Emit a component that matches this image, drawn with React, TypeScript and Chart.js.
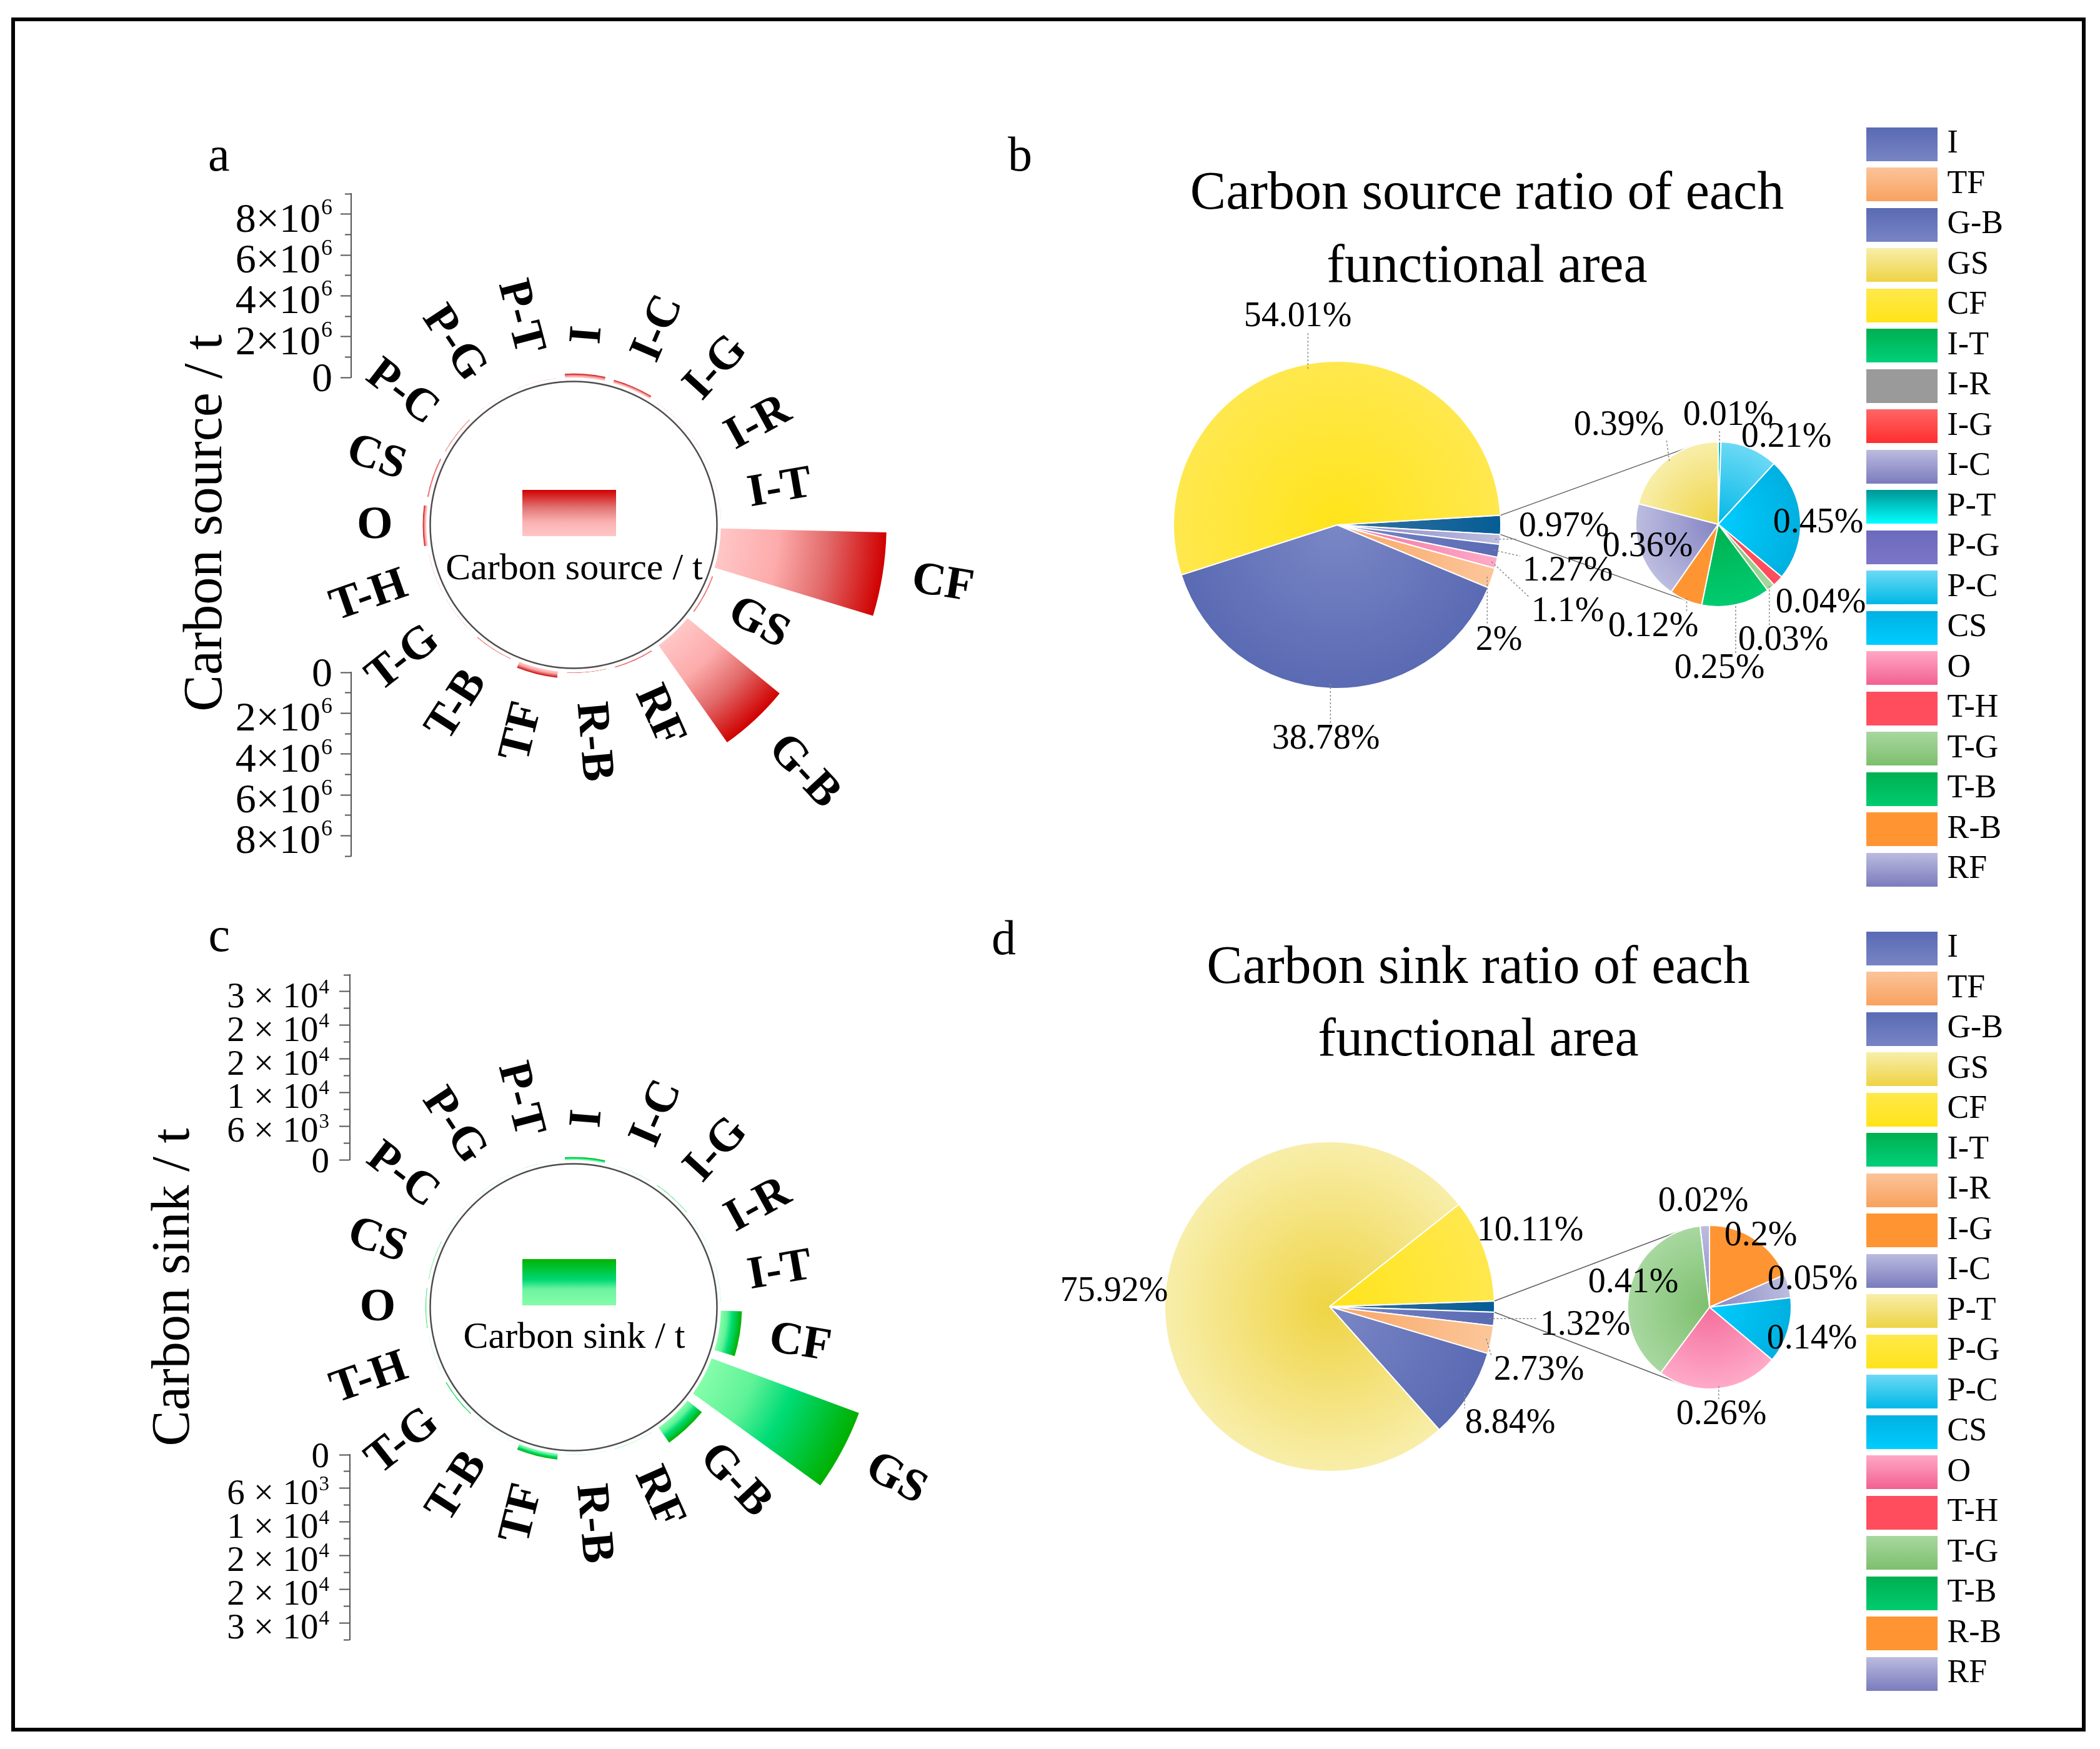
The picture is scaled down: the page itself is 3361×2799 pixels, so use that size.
import React, { useEffect, useRef } from 'react';
import { Chart, registerables } from 'chart.js';

Chart.register(...registerables);
const SERIF = '"Liberation Serif", "Times New Roman", serif';
Chart.defaults.font.family = SERIF;
Chart.defaults.color = '#000';

// ======================= DATA =======================
const RADIAL_CATEGORIES = ['I', 'I-C', 'I-G', 'I-R', 'I-T', 'CF', 'GS', 'G-B', 'RF', 'R-B', 'TF', 'T-B', 'T-G', 'T-H', 'O', 'CS', 'P-C', 'P-G', 'P-T'];
// carbon source per functional area (t)
const CARBON_SOURCE_T = [190600, 145600, 0, 0, 0, 8107000, 58500, 5820000, 54000, 18000, 300200, 37500, 4500, 6000, 165100, 67500, 31500, 0, 1500];
// carbon sink per functional area (t)
const CARBON_SINK_T = [487, 7.4, 73.8, 0, 0, 3729, 28000, 3260, 18.4, 0, 1007, 0, 151, 0, 95.9, 51.6, 0, 0, 0];

const SOURCE_AXIS_TICK_VALUES = [0, 2e6, 4e6, 6e6, 8e6];
const SOURCE_AXIS_TICK_LABELS = ['0', '2×10^6', '4×10^6', '6×10^6', '8×10^6'];
const SINK_AXIS_TICK_VALUES = [0, 6000, 12000, 18000, 24000, 30000];
const SINK_AXIS_TICK_LABELS = ['0', '6 × 10^3', '1 × 10^4', '2 × 10^4', '2 × 10^4', '3 × 10^4'];

const SOURCE_MAIN_CATEGORIES = ['Other', 'I-C', 'I', 'O', 'TF', 'G-B', 'CF'];
const SOURCE_MAIN_PCT = [1.87, 0.97, 1.27, 1.1, 2, 38.78, 54.01];
const SOURCE_SECOND_CATEGORIES = ['P-T', 'P-C', 'CS', 'T-H', 'T-G', 'T-B', 'R-B', 'RF', 'GS'];
const SOURCE_SECOND_PCT = [0.01, 0.21, 0.45, 0.04, 0.03, 0.25, 0.12, 0.36, 0.39];

const SINK_MAIN_CATEGORIES = ['Other', 'I', 'TF', 'G-B', 'GS', 'CF'];
const SINK_MAIN_PCT = [1.08, 1.32, 2.73, 8.84, 75.92, 10.11];
const SINK_SECOND_CATEGORIES = ['I-C', 'I-G', 'RF', 'CS', 'O', 'T-G'];
const SINK_SECOND_PCT = [0.02, 0.2, 0.05, 0.14, 0.26, 0.41];

const LEGEND_CATEGORIES = ['I', 'TF', 'G-B', 'GS', 'CF', 'I-T', 'I-R', 'I-G', 'I-C', 'P-T', 'P-G', 'P-C', 'CS', 'O', 'T-H', 'T-G', 'T-B', 'R-B', 'RF'];

// ======================= STYLES / LAYOUT =======================
const FRAME = { left: 18, top: 28, width: 3320, height: 2743, border: 6 };

const SOURCE_LEGEND_COLORS: any = {
  'I': ['#5a6bb4', '#7884c4'], 'TF': ['#fcc49a', '#f8a25e'], 'G-B': ['#5a6bb4', '#7884c4'], 'GS': ['#f8eeaa', '#eed444'],
  'CF': ['#ffe94c', '#ffe41a'], 'I-T': ['#00b050', '#00d07a'], 'I-R': ['#9a9a9a', '#9a9a9a'], 'I-G': ['#ff6666', '#ff2e2e'],
  'I-C': ['#bcbce0', '#7c7cbe'], 'P-T': ['#009595', '#00ffff'], 'P-G': ['#6b6bbd', '#7c76c8'], 'P-C': ['#6cd9f5', '#00b9e6'],
  'CS': ['#00b1e2', '#00cdff'], 'O': ['#ffa8c6', '#f26192'], 'T-H': ['#ff4d5e', '#ff4d5e'], 'T-G': ['#a8d8a0', '#7dbf6e'],
  'T-B': ['#00b050', '#00cc70'], 'R-B': ['#ff9532', '#ff9532'], 'RF': ['#bcbce0', '#7c7cbe'],
};
const SINK_LEGEND_COLORS: any = {
  ...SOURCE_LEGEND_COLORS,
  'I-R': ['#fcc49a', '#f8a25e'], 'I-G': ['#ff9532', '#ff9532'], 'P-T': ['#f8eeaa', '#eed444'], 'P-G': ['#ffe94c', '#ffe41a'],
};
// pie slice radial gradients: [centre, edge]
const SLICE_COLORS: any = {
  'Other': ['#3a72a2', '#045d95'], 'I-C': ['#8585c4', '#bdbde0'], 'I': ['#7a87c6', '#5a6ab3'], 'O': ['#f46e9c', '#ffaac8'],
  'TF': ['#f8a564', '#fcc69a'], 'G-B': ['#7a87c6', '#5a6ab3'], 'CF': ['#ffe41a', '#ffe84e'], 'GS': ['#efd444', '#f8eeaa'],
  'P-T': ['#009c9c', '#00c4c4'], 'P-C': ['#00b8e6', '#6cd9f5'], 'CS': ['#00cdff', '#00b0e0'], 'T-H': ['#ff4d5e', '#ff4d5e'],
  'T-G': ['#7dbf6e', '#a8d8a0'], 'T-B': ['#00b050', '#00cc70'], 'R-B': ['#ff9532', '#ff9532'], 'RF': ['#8585c4', '#bdbde0'],
  'I-G': ['#ff9532', '#ff9532'],
};

const RAD = { size: 1440, baseR: 236, holeR: 229.5, labelGap: 48, slot: 360 / 19, barDeg: 15.5, firstCenterDeg: 4.4 };
const AX = { padTop: 60, padBottom: 50, canvasLeft: 290, canvasWidth: 310, tickLen: 17 };

const PANEL_A = {
  cx: 918, cy: 840, values: CARBON_SOURCE_T, axisMax: 9e6, axisPx: 294, axisStep: 1e6,
  tickValues: SOURCE_AXIS_TICK_VALUES, tickLabels: SOURCE_AXIS_TICK_LABELS, axisX: 562,
  labelRight: 532, mainFont: 66, supFont: 36, baseDy: 28, supDy: 0, zeroDy: 22,
  barStops: [[0, '#ffc6c6'], [0.35, '#fdabab'], [0.65, '#e26a6a'], [1, '#d00000']],
  boxStops: [[0, '#d00000'], [0.4, '#e37878'], [0.7, '#fbb2b2'], [1, '#ffc6c6']],
  box: { dx: -82, dy: -56, w: 150, h: 74 }, innerText: 'Carbon source / t', innerTextDy: 86.7,
  axisTitle: 'Carbon source / t', axisTitleBaselineX: 353.6, axisTitleCenterY: 837, axisTitleFont: 88,
  letter: 'a', letterX: 333, letterBaseline: 272.7,
};
const PANEL_C = {
  cx: 918, cy: 2092, values: CARBON_SINK_T, axisMax: 33000, axisPx: 296, axisStep: 3000,
  tickValues: SINK_AXIS_TICK_VALUES, tickLabels: SINK_AXIS_TICK_LABELS, axisX: 560,
  labelRight: 527, mainFont: 57, supFont: 33, baseDy: 25, supDy: 3, zeroDy: 20,
  barStops: [[0, '#86fdab'], [0.3, '#5ef297'], [0.55, '#00dc76'], [1, '#00b000']],
  boxStops: [[0, '#00b300'], [0.45, '#00d874'], [0.65, '#6cf3a0'], [1, '#86fcaa']],
  box: { dx: -82, dy: -77, w: 150, h: 74 }, innerText: 'Carbon sink / t', innerTextDy: 65.3,
  axisTitle: 'Carbon sink / t', axisTitleBaselineX: 302, axisTitleCenterY: 2060, axisTitleFont: 86,
  letter: 'c', letterX: 333.5, letterBaseline: 1521.7,
};

const MAIN_B = {
  canvasLeft: 1560, canvasTop: 180, canvasW: 1400, canvasH: 1320, cx: 2140, cy: 840, radius: 262,
  categories: SOURCE_MAIN_CATEGORIES, values: SOURCE_MAIN_PCT,
  labelPos: [null, [2503, 843], [2509, 914], [2509, 979], [2399, 1025], [2122, 1183], [2077, 507]],
  title: ['Carbon source ratio of each', 'functional area'], titleX: 2380, titleBaselines: [334.4, 451.2],
  letter: 'b', letterX: 1613, letterBaseline: 272.5, secondCx: 2750, secondCy: 839, secondR: 132,
};
const SECOND_B = {
  cx: 2750, cy: 839, radius: 132, canvasSize: 560, categories: SOURCE_SECOND_CATEGORIES, values: SOURCE_SECOND_PCT,
  labelPos: [[2766, 665], [2859, 700], [2910, 837], [2914, 965], [2854, 1025], [2752, 1070], [2646, 1003], [2637, 875], [2591, 681]],
};
const MAIN_D = {
  canvasLeft: 1560, canvasTop: 1431, canvasW: 1400, canvasH: 1320, cx: 2128, cy: 2091, radius: 264,
  categories: SINK_MAIN_CATEGORIES, values: SINK_MAIN_PCT,
  labelPos: [null, [2537, 2121], [2463, 2193], [2417, 2278], [1783, 2067], [2449, 1970]],
  title: ['Carbon sink ratio of each', 'functional area'], titleX: 2366, titleBaselines: [1572.5, 1689],
  letter: 'd', letterX: 1587, letterBaseline: 1526.6, secondCx: 2736, secondCy: 2092, secondR: 131,
};
const SECOND_D = {
  cx: 2736, cy: 2092, radius: 131, canvasSize: 560, categories: SINK_SECOND_CATEGORIES, values: SINK_SECOND_PCT,
  labelPos: [[2726, 1923], [2818, 1978], [2901, 2048], [2900, 2143], [2755, 2264], [2614, 2053]],
};
const LEGEND_B = { left: 2984, top: 192, width: 540, height: 1260, colors: SOURCE_LEGEND_COLORS };
const LEGEND_D = { left: 2984, top: 1479, width: 540, height: 1260, colors: SINK_LEGEND_COLORS };

const PIE_LABEL_FONT = 56;

// ======================= HELPERS =======================
const sum = (a: number[]) => a.reduce((s, v) => s + v, 0);

function tangentPoint(P: any, C: any, r: number, upper: boolean) {
  const dx = P.x - C.x, dy = P.y - C.y;
  const d = Math.hypot(dx, dy);
  const phi = Math.atan2(dy, dx);
  const a = Math.acos(Math.min(1, r / d));
  const t1 = { x: C.x + r * Math.cos(phi + a), y: C.y + r * Math.sin(phi + a) };
  const t2 = { x: C.x + r * Math.cos(phi - a), y: C.y + r * Math.sin(phi - a) };
  if (upper) return t1.y < t2.y ? t1 : t2;
  return t1.y < t2.y ? t2 : t1;
}

function drawPieLabels(ctx: CanvasRenderingContext2D, meta: any, values: number[], positions: any[], offX: number, offY: number) {
  ctx.save();
  ctx.font = `${PIE_LABEL_FONT}px ${SERIF}`;
  ctx.textAlign = 'center';
  ctx.textBaseline = 'middle';
  values.forEach((v, i) => {
    const pos = positions[i];
    if (!pos) return;
    const el = meta.data[i];
    const pr = el.getProps(['x', 'y', 'startAngle', 'endAngle', 'outerRadius'], true);
    const mid = (pr.startAngle + pr.endAngle) / 2;
    const ax = pr.x + Math.cos(mid) * pr.outerRadius * 0.97;
    const ay = pr.y + Math.sin(mid) * pr.outerRadius * 0.97;
    const lx = pos[0] - offX, ly = pos[1] - offY;
    const text = `${v}%`;
    const w = ctx.measureText(text).width;
    const h = PIE_LABEL_FONT * 0.72;
    const bx = Math.min(Math.max(ax, lx - w / 2 - 4), lx + w / 2 + 4);
    const by = Math.min(Math.max(ay, ly - h / 2 - 4), ly + h / 2 + 4);
    if (Math.hypot(ax - bx, ay - by) > 18) {
      ctx.save();
      ctx.strokeStyle = '#8a8a8a';
      ctx.lineWidth = 1.5;
      ctx.setLineDash([3, 3]);
      ctx.beginPath();
      ctx.moveTo(ax, ay);
      ctx.lineTo(bx, by);
      ctx.stroke();
      ctx.restore();
    }
    ctx.fillStyle = '#000';
    ctx.fillText(text, lx, ly);
  });
  ctx.restore();
}

function sliceFill(cats: string[], radius: number) {
  return (c: any) => {
    const pair = SLICE_COLORS[cats[c.dataIndex]] || ['#999', '#999'];
    const ca = c.chart.chartArea;
    if (!ca) return pair[1];
    const x = (ca.left + ca.right) / 2, y = (ca.top + ca.bottom) / 2;
    const g = c.chart.ctx.createRadialGradient(x, y, 0, x, y, radius);
    g.addColorStop(0, pair[0]);
    g.addColorStop(1, pair[1]);
    return g;
  };
}

function swatch(pair: string[]) {
  const c = document.createElement('canvas');
  c.width = 114;
  c.height = 54;
  const g = c.getContext('2d')!;
  const gr = g.createLinearGradient(0, 0, 0, 54);
  gr.addColorStop(0, pair[0]);
  gr.addColorStop(1, pair[1]);
  g.fillStyle = gr;
  g.fillRect(0, 0, 114, 54);
  return c;
}

// ======================= CHART CONFIGS =======================
function radialDecor(p: any) {
  return {
    id: 'radialDecor',
    afterDatasetsDraw(chart: any) {
      const ctx = chart.ctx as CanvasRenderingContext2D;
      const sc = chart.scales.r;
      const cx = sc.xCenter, cy = sc.yCenter;
      const offX = p.cx - cx, offY = p.cy - cy;
      ctx.save();
      ctx.beginPath();
      ctx.arc(cx, cy, RAD.baseR - 0.3, 0, Math.PI * 2);
      ctx.fillStyle = '#fff';
      ctx.fill();
      ctx.beginPath();
      ctx.arc(cx, cy, RAD.holeR, 0, Math.PI * 2);
      ctx.lineWidth = 2.5;
      ctx.strokeStyle = '#4d4d4d';
      ctx.stroke();
      const bx = cx + p.box.dx, by = cy + p.box.dy;
      const g = ctx.createLinearGradient(0, by, 0, by + p.box.h);
      p.boxStops.forEach((s: any) => g.addColorStop(s[0], s[1]));
      ctx.fillStyle = g;
      ctx.fillRect(bx, by, p.box.w, p.box.h);
      ctx.fillStyle = '#000';
      ctx.font = `60px ${SERIF}`;
      ctx.textAlign = 'center';
      ctx.textBaseline = 'alphabetic';
      ctx.fillText(p.innerText, cx + 1, cy + p.innerTextDy);
      const meta = chart.getDatasetMeta(0);
      ctx.font = `bold 74px ${SERIF}`;
      ctx.textBaseline = 'middle';
      RADIAL_CATEGORIES.forEach((cat, i) => {
        const el = meta.data[2 * i + 1];
        const pr = el.getProps(['startAngle', 'endAngle', 'outerRadius'], true);
        const mid = (pr.startAngle + pr.endAngle) / 2;
        const r = Math.max(pr.outerRadius, RAD.baseR) + RAD.labelGap;
        ctx.save();
        ctx.translate(cx + Math.cos(mid) * r, cy + Math.sin(mid) * r);
        if (Math.cos(mid) >= -0.0001) {
          ctx.rotate(mid);
          ctx.textAlign = 'left';
        } else {
          ctx.rotate(mid + Math.PI);
          ctx.textAlign = 'right';
        }
        ctx.fillText(cat, 0, 0);
        ctx.restore();
      });
      ctx.save();
      ctx.translate(p.axisTitleBaselineX - offX, p.axisTitleCenterY - offY);
      ctx.rotate(-Math.PI / 2);
      ctx.font = `${p.axisTitleFont}px ${SERIF}`;
      ctx.textAlign = 'center';
      ctx.textBaseline = 'alphabetic';
      ctx.fillText(p.axisTitle, 0, 0);
      ctx.restore();
      ctx.font = `78px ${SERIF}`;
      ctx.textAlign = 'left';
      ctx.textBaseline = 'alphabetic';
      ctx.fillText(p.letter, p.letterX - offX, p.letterBaseline - offY);
      ctx.restore();
    },
  };
}

function makeRadialConfig(p: any) {
  const k = p.axisPx / p.axisMax;
  const half = RAD.size / 2;
  const gap = RAD.slot - RAD.barDeg;
  const data = RADIAL_CATEGORIES.flatMap((_, i) => [0, p.values[i]]);
  const labels = RADIAL_CATEGORIES.flatMap((c) => ['', c]);
  return {
    type: 'polarArea',
    data: {
      labels,
      datasets: [{
        data,
        borderWidth: 0,
        angle: (c: any) => (c.dataIndex % 2 === 0 ? gap : RAD.barDeg),
        backgroundColor: (c: any) => {
          if (c.dataIndex % 2 === 0) return 'rgba(0,0,0,0)';
          const sc = c.chart.scales.r;
          const last = p.barStops[p.barStops.length - 1][1];
          if (!sc || sc.xCenter === undefined) return last;
          const outer = sc.getDistanceFromCenterForValue(c.raw);
          const g = c.chart.ctx.createRadialGradient(sc.xCenter, sc.yCenter, RAD.baseR, sc.xCenter, sc.yCenter, Math.max(outer, RAD.baseR + 0.5));
          p.barStops.forEach((s: any) => g.addColorStop(s[0], s[1]));
          return g;
        },
      }],
    },
    options: {
      responsive: false,
      animation: false,
      devicePixelRatio: 1,
      layout: { padding: 0 },
      plugins: { legend: { display: false }, tooltip: { enabled: false } },
      scales: {
        r: {
          min: -RAD.baseR / k,
          max: (half - RAD.baseR) / k,
          startAngle: RAD.firstCenterDeg - gap - RAD.barDeg / 2,
          ticks: { display: false },
          grid: { display: false },
          angleLines: { display: false },
          pointLabels: { display: false },
        },
      },
    },
    plugins: [radialDecor(p)],
  };
}

function makeAxisConfig(p: any, reversed: boolean) {
  const near = (a: number, b: number) => Math.abs(a - b) < p.axisStep * 1e-6;
  return {
    type: 'scatter',
    data: { datasets: [] },
    options: {
      responsive: false,
      animation: false,
      devicePixelRatio: 1,
      layout: { padding: { top: AX.padTop, bottom: AX.padBottom, left: 0, right: 20 } },
      plugins: { legend: { display: false }, tooltip: { enabled: false } },
      scales: {
        x: { display: false },
        y: {
          type: 'linear',
          position: 'left',
          min: 0,
          max: p.axisMax,
          reverse: reversed,
          afterFit: (s: any) => { s.width = p.axisX - AX.canvasLeft; },
          border: { display: true, color: '#555', width: 2 },
          grid: {
            display: true,
            drawOnChartArea: false,
            drawTicks: true,
            tickLength: AX.tickLen,
            tickWidth: 2,
            tickColor: '#555',
            tickBorderDash: (c: any) => (p.tickValues.some((t: number) => near(t, c.tick.value)) ? [] : [0, 7, 10, 100]),
          },
          ticks: { autoSkip: false, stepSize: p.axisStep, padding: 0, callback: () => '' },
        },
      },
    },
    plugins: [{
      id: 'superscriptTickLabels',
      afterDraw(chart: any) {
        const sc = chart.scales.y;
        const ctx = chart.ctx as CanvasRenderingContext2D;
        const right = p.labelRight - AX.canvasLeft;
        ctx.save();
        ctx.fillStyle = '#000';
        ctx.textAlign = 'right';
        ctx.textBaseline = 'alphabetic';
        p.tickValues.forEach((v: number, i: number) => {
          const y = sc.getPixelForValue(v);
          const parts = String(p.tickLabels[i]).split('^');
          if (parts.length > 1) {
            ctx.font = `${p.supFont}px ${SERIF}`;
            const sw = ctx.measureText(parts[1]).width;
            ctx.fillText(parts[1], right, y + p.supDy);
            ctx.font = `${p.mainFont}px ${SERIF}`;
            ctx.fillText(parts[0], right - sw - 1, y + p.baseDy);
          } else {
            ctx.font = `${p.mainFont}px ${SERIF}`;
            ctx.fillText(parts[0], right, y + p.zeroDy);
          }
        });
        ctx.restore();
      },
    }],
  };
}

function mainPieDecor(p: any) {
  return {
    id: 'mainPieDecor',
    afterDatasetsDraw(chart: any) {
      const ctx = chart.ctx as CanvasRenderingContext2D;
      const L = p.canvasLeft, T = p.canvasTop;
      const meta = chart.getDatasetMeta(0);
      ctx.save();
      ctx.fillStyle = '#000';
      ctx.font = `86px ${SERIF}`;
      ctx.textAlign = 'center';
      ctx.textBaseline = 'alphabetic';
      p.title.forEach((line: string, i: number) => ctx.fillText(line, p.titleX - L, p.titleBaselines[i] - T));
      ctx.font = `78px ${SERIF}`;
      ctx.textAlign = 'left';
      ctx.fillText(p.letter, p.letterX - L, p.letterBaseline - T);
      // connectors from the "other" slice to the secondary pie
      const o = meta.data[0].getProps(['x', 'y', 'startAngle', 'endAngle', 'outerRadius'], true);
      const P1 = { x: o.x + Math.cos(o.startAngle) * o.outerRadius, y: o.y + Math.sin(o.startAngle) * o.outerRadius };
      const P2 = { x: o.x + Math.cos(o.endAngle) * o.outerRadius, y: o.y + Math.sin(o.endAngle) * o.outerRadius };
      const C = { x: p.secondCx - L, y: p.secondCy - T };
      const U = P1.y < P2.y ? P1 : P2, D = P1.y < P2.y ? P2 : P1;
      const T1 = tangentPoint(U, C, p.secondR, true);
      const T2 = tangentPoint(D, C, p.secondR, false);
      ctx.strokeStyle = '#5f5f5f';
      ctx.lineWidth = 1.5;
      ctx.beginPath();
      ctx.moveTo(U.x, U.y);
      ctx.lineTo(T1.x, T1.y);
      ctx.moveTo(D.x, D.y);
      ctx.lineTo(T2.x, T2.y);
      ctx.stroke();
      ctx.restore();
      drawPieLabels(ctx, meta, p.values, p.labelPos, L, T);
    },
  };
}

function makeMainPieConfig(p: any) {
  const total = sum(p.values);
  return {
    type: 'pie',
    data: {
      labels: p.categories,
      datasets: [{ data: p.values, backgroundColor: sliceFill(p.categories, p.radius), borderColor: '#ffffff', borderWidth: 2 }],
    },
    options: {
      responsive: false,
      animation: false,
      devicePixelRatio: 1,
      radius: p.radius,
      rotation: 90 - (p.values[0] / total) * 180,
      layout: { padding: { left: 0, top: 0, bottom: 0, right: p.canvasW - 2 * (p.cx - p.canvasLeft) } },
      plugins: { legend: { display: false }, tooltip: { enabled: false } },
    },
    plugins: [mainPieDecor(p)],
  };
}

function makeSecondPieConfig(p: any) {
  const total = sum(p.values);
  const left = p.cx - p.canvasSize / 2, top = p.cy - p.canvasSize / 2;
  const rotation = p.categories[0] === 'P-T' ? 0 : -(p.values[0] / total) * 360;
  return {
    type: 'pie',
    data: {
      labels: p.categories,
      datasets: [{ data: p.values, backgroundColor: sliceFill(p.categories, p.radius), borderColor: '#ffffff', borderWidth: 2 }],
    },
    options: {
      responsive: false,
      animation: false,
      devicePixelRatio: 1,
      radius: p.radius,
      rotation,
      layout: { padding: 0 },
      plugins: { legend: { display: false }, tooltip: { enabled: false } },
    },
    plugins: [{
      id: 'secondPieLabels',
      afterDatasetsDraw(chart: any) {
        drawPieLabels(chart.ctx, chart.getDatasetMeta(0), p.values, p.labelPos, left, top);
      },
    }],
  };
}

function makeLegendConfig(colors: any) {
  const swatches = LEGEND_CATEGORIES.map((c) => swatch(colors[c]));
  return {
    type: 'pie',
    data: { labels: [], datasets: [] },
    options: {
      responsive: false,
      animation: false,
      devicePixelRatio: 1,
      layout: { padding: 0 },
      plugins: {
        tooltip: { enabled: false },
        legend: {
          display: true,
          position: 'left',
          align: 'start',
          onClick: () => {},
          labels: {
            usePointStyle: true,
            pointStyleWidth: 94,
            padding: 12.5,
            color: '#000',
            font: { size: 52, family: SERIF },
            generateLabels: () => LEGEND_CATEGORIES.map((c, i) => ({
              text: c,
              fillStyle: colors[c][0],
              strokeStyle: 'rgba(0,0,0,0)',
              fontColor: '#000',
              lineWidth: 0,
              pointStyle: swatches[i],
              hidden: false,
              index: i,
            })),
          },
        },
      },
    },
  };
}

// ======================= COMPONENTS =======================
function ChartBox({ left, top, width, height, make }: any) {
  const ref = useRef<HTMLCanvasElement | null>(null);
  useEffect(() => {
    if (!ref.current) return;
    const chart = new Chart(ref.current, make());
    return () => chart.destroy();
  }, []);
  return <canvas ref={ref} width={width} height={height} style={{ position: 'absolute', left, top, width, height }} />;
}

function RadialPanel({ p }: any) {
  const half = RAD.size / 2;
  const axisH = AX.padTop + p.axisPx + AX.padBottom;
  const topZero = p.cy - RAD.baseR;
  const bottomZero = p.cy + RAD.baseR;
  return (
    <>
      <ChartBox left={p.cx - half} top={p.cy - half} width={RAD.size} height={RAD.size} make={() => makeRadialConfig(p)} />
      <ChartBox left={AX.canvasLeft} top={topZero - p.axisPx - AX.padTop} width={AX.canvasWidth} height={axisH} make={() => makeAxisConfig(p, false)} />
      <ChartBox left={AX.canvasLeft} top={bottomZero - AX.padTop} width={AX.canvasWidth} height={axisH} make={() => makeAxisConfig(p, true)} />
    </>
  );
}

function PiePanel({ main, second, legend }: any) {
  return (
    <>
      <ChartBox left={main.canvasLeft} top={main.canvasTop} width={main.canvasW} height={main.canvasH} make={() => makeMainPieConfig(main)} />
      <ChartBox left={second.cx - second.canvasSize / 2} top={second.cy - second.canvasSize / 2} width={second.canvasSize} height={second.canvasSize} make={() => makeSecondPieConfig(second)} />
      <ChartBox left={legend.left} top={legend.top} width={legend.width} height={legend.height} make={() => makeLegendConfig(legend.colors)} />
    </>
  );
}

export default function App() {
  useEffect(() => {
    document.body.style.margin = '0';
    document.body.style.background = '#fff';
  }, []);
  return (
    <div style={{ position: 'absolute', left: 0, top: 0, width: 3361, height: 2799, background: '#fff', overflow: 'hidden' }}>
      <div style={{ position: 'absolute', left: FRAME.left, top: FRAME.top, width: FRAME.width, height: FRAME.height, border: `${FRAME.border}px solid #000`, boxSizing: 'border-box' }} />
      <RadialPanel p={PANEL_A} />
      <RadialPanel p={PANEL_C} />
      <PiePanel main={MAIN_B} second={SECOND_B} legend={LEGEND_B} />
      <PiePanel main={MAIN_D} second={SECOND_D} legend={LEGEND_D} />
    </div>
  );
}
